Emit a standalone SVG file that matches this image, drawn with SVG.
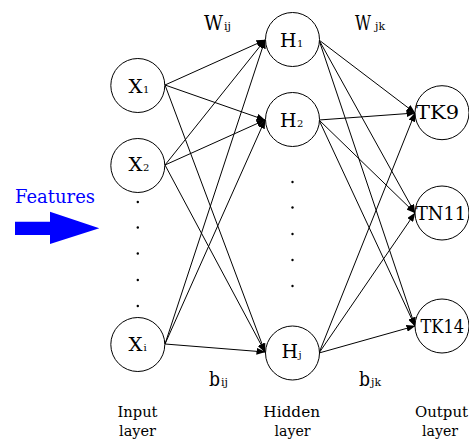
<svg xmlns="http://www.w3.org/2000/svg" width="469" height="439" viewBox="0 0 469 439">
<style>
.n{fill:#fff;stroke:#000;stroke-width:1}
.t{font-family:"DejaVu Serif","Liberation Serif",serif;fill:#000}
.big{font-size:19px}
.sub{font-size:10px}
.lay{font-size:15px;text-anchor:middle}
.c line{stroke:#000;stroke-width:1;marker-end:url(#ah)}
.dot{fill:#000}
</style>
<defs>
<marker id="ah" markerWidth="9" markerHeight="7" refX="8.5" refY="3.5" orient="auto" markerUnits="userSpaceOnUse">
<path d="M0,0 L9,3.5 L0,7 z" fill="#000"/>
</marker>
</defs>
<rect width="469" height="439" fill="#fff"/>
<g id="connectors" class="c">
<line x1="165" y1="85" x2="265" y2="40"/>
<line x1="165" y1="85" x2="265" y2="120"/>
<line x1="165" y1="85" x2="265" y2="352"/>
<line x1="165" y1="165" x2="265" y2="40"/>
<line x1="165" y1="165" x2="265" y2="120"/>
<line x1="165" y1="165" x2="265" y2="352"/>
<line x1="165" y1="344" x2="265" y2="40"/>
<line x1="165" y1="344" x2="265" y2="120"/>
<line x1="165" y1="344" x2="265" y2="352"/>
<line x1="319" y1="40" x2="415" y2="113"/>
<line x1="319" y1="40" x2="415" y2="213"/>
<line x1="319" y1="40" x2="415" y2="326"/>
<line x1="319" y1="120" x2="415" y2="113"/>
<line x1="319" y1="120" x2="415" y2="213"/>
<line x1="319" y1="120" x2="415" y2="326"/>
<line x1="319" y1="353" x2="415" y2="113"/>
<line x1="319" y1="353" x2="415" y2="213"/>
<line x1="319" y1="353" x2="415" y2="326"/>
</g>
<g id="X1"><circle class="n" cx="137.8" cy="85.5" r="27"/><text class="t big" x="128.5" y="93.3" textLength="14" lengthAdjust="spacingAndGlyphs">X</text><text class="t sub" x="143" y="93.3">1</text></g>
<g id="X2"><circle class="n" cx="137.8" cy="165.5" r="27"/><text class="t big" x="128.5" y="171" textLength="14" lengthAdjust="spacingAndGlyphs">X</text><text class="t sub" x="143" y="171">2</text></g>
<g id="Xi"><circle class="n" cx="137.8" cy="344.5" r="27"/><text class="t big" x="128.5" y="351" textLength="14" lengthAdjust="spacingAndGlyphs">X</text><text class="t sub" x="143.5" y="351">i</text></g>
<g id="H1"><circle class="n" cx="292.5" cy="39.5" r="27"/><text class="t big" x="280" y="47.3" textLength="16.5" lengthAdjust="spacingAndGlyphs">H</text><text class="t sub" x="297" y="47.3">1</text></g>
<g id="H2"><circle class="n" cx="292.5" cy="119.5" r="27"/><text class="t big" x="280" y="127.3" textLength="16.5" lengthAdjust="spacingAndGlyphs">H</text><text class="t sub" x="297" y="127.3">2</text></g>
<g id="Hj"><circle class="n" cx="292.5" cy="353" r="27"/><text class="t big" x="281.5" y="358.3" textLength="16.5" lengthAdjust="spacingAndGlyphs">H</text><text class="t sub" x="298.5" y="358.3">j</text></g>
<g id="TK9"><circle class="n" cx="442" cy="112.7" r="27"/><text class="t big" x="416" y="118.5" textLength="43" lengthAdjust="spacingAndGlyphs">TK9</text></g>
<g id="TN11"><circle class="n" cx="442" cy="213" r="27"/><text class="t big" x="416" y="219.5" textLength="50" lengthAdjust="spacingAndGlyphs">TN11</text></g>
<g id="TK14"><circle class="n" cx="442" cy="326" r="27"/><text class="t big" x="420.5" y="332.7" textLength="43.5" lengthAdjust="spacingAndGlyphs">TK14</text></g>
<g id="input-dots" class="dot">
<circle cx="137.8" cy="202" r="1.2"/><circle cx="137.8" cy="227.5" r="1.2"/><circle cx="137.8" cy="253.5" r="1.2"/><circle cx="137.8" cy="280" r="1.2"/><circle cx="137.8" cy="306" r="1.2"/>
</g>
<g id="hidden-dots" class="dot">
<circle cx="292.5" cy="182" r="1.2"/><circle cx="292.5" cy="207.5" r="1.2"/><circle cx="292.5" cy="234" r="1.2"/><circle cx="292.5" cy="260" r="1.2"/><circle cx="292.5" cy="286" r="1.2"/>
</g>
<g id="weights">
<text class="t" x="204" y="30" font-size="20" textLength="19" lengthAdjust="spacingAndGlyphs">W</text><text class="t" x="224" y="30" font-size="11">ij</text>
<text class="t" x="355" y="30" font-size="20" textLength="16" lengthAdjust="spacingAndGlyphs">W</text><text class="t" x="375" y="30" font-size="11">jk</text>
<text class="t" x="209" y="385.7" font-size="20" textLength="11" lengthAdjust="spacingAndGlyphs">b</text><text class="t" x="221" y="385.7" font-size="11">ij</text>
<text class="t" x="359" y="385.7" font-size="20" textLength="11" lengthAdjust="spacingAndGlyphs">b</text><text class="t" x="371" y="385.7" font-size="11">jk</text>
</g>
<g id="features">
<text class="t" x="15" y="202.7" font-size="19" style="fill:#00f" textLength="80" lengthAdjust="spacingAndGlyphs">Features</text>
<polygon points="15,221.7 50,221.7 50,211.7 99.3,228.3 50,244 50,235 15,235" fill="#00f"/>
</g>
<g id="layer-labels">
<text class="t lay" x="137.5" y="416.7" textLength="40" lengthAdjust="spacingAndGlyphs">Input</text>
<text class="t lay" x="137.5" y="436" textLength="37" lengthAdjust="spacingAndGlyphs">layer</text>
<text class="t lay" x="291.7" y="416.7" textLength="56.7" lengthAdjust="spacingAndGlyphs">Hidden</text>
<text class="t lay" x="292.5" y="436" textLength="36" lengthAdjust="spacingAndGlyphs">layer</text>
<text class="t lay" x="441.5" y="416.7" textLength="53" lengthAdjust="spacingAndGlyphs">Output</text>
<text class="t lay" x="440" y="436" textLength="36" lengthAdjust="spacingAndGlyphs">layer</text>
</g>
</svg>
